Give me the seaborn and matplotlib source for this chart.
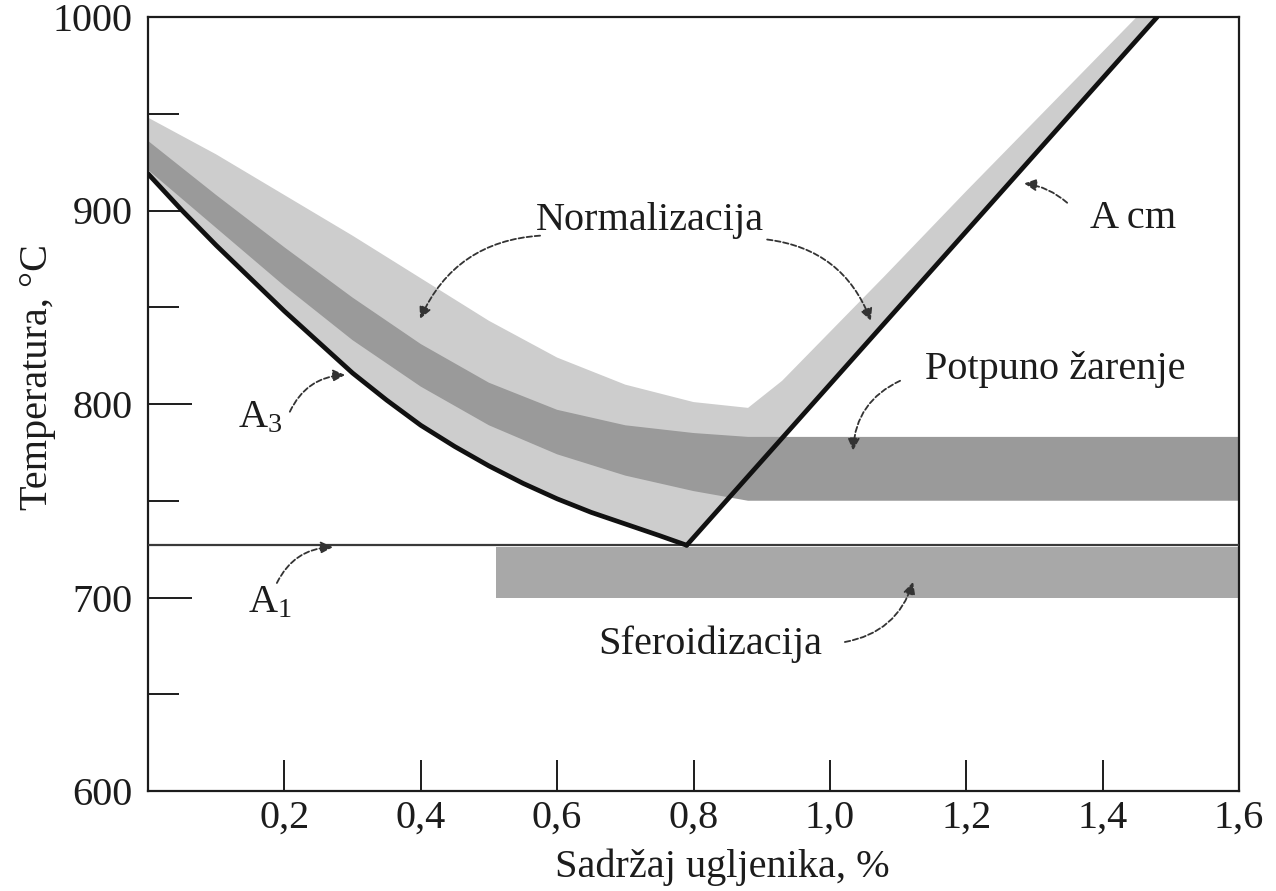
import matplotlib
matplotlib.use("Agg")
import matplotlib.pyplot as plt
from matplotlib.ticker import FixedLocator
import seaborn as sns

# ---------------- data ----------------
# A3 line (hypoeutectoid), carbon % vs temperature °C
a3_x = [0.00, 0.05, 0.10, 0.15, 0.20, 0.25, 0.30, 0.35, 0.40, 0.45, 0.50,
        0.55, 0.60, 0.65, 0.70, 0.75, 0.79]
a3_t = [919, 900, 882, 865, 848, 832, 816, 802, 789, 778, 768,
        759, 751, 744, 738, 732, 727]
# Acm line (hypereutectoid)
acm_x = [0.79, 1.48]
acm_t = [727, 1000]
# A1 line
a1_x = [0.0, 1.6]
a1_t = [727, 727]

# Normalization band: upper edge (lower edge = A3 / Acm)
norm_up_x = [0.00, 0.10, 0.20, 0.30, 0.40, 0.50, 0.60, 0.70, 0.80, 0.88,
             0.93, 0.98, 1.08, 1.20, 1.30, 1.45]
norm_up_t = [948, 929, 908, 887, 865, 843, 824, 810, 801, 798,
             812, 830, 866, 910, 946, 1000]

# Full annealing band
full_x = [0.00, 0.10, 0.20, 0.30, 0.40, 0.50, 0.60, 0.70, 0.80, 0.88, 1.60]
full_up_t = [936, 908, 881, 855, 831, 811, 797, 789, 785, 783, 783]
full_lo_t = [921, 891, 861, 833, 809, 789, 774, 763, 755, 750, 750]

# Spheroidization band
sph_x = [0.51, 1.60]
sph_lo_t = [700, 700]
sph_up_t = [726, 726]

x_ticks = [0.2, 0.4, 0.6, 0.8, 1.0, 1.2, 1.4, 1.6]
x_tick_labels = ["0,2", "0,4", "0,6", "0,8", "1,0", "1,2", "1,4", "1,6"]
y_ticks = [600, 700, 800, 900, 1000]
y_minor = [650, 750, 850, 950]

# ---------------- style ----------------
sns.set_theme(style="ticks")
plt.rcParams["font.family"] = ["Liberation Serif", "DejaVu Serif"]
plt.rcParams["mathtext.fontset"] = "custom"
plt.rcParams["mathtext.rm"] = "Liberation Serif"
plt.rcParams["mathtext.it"] = "Liberation Serif:italic"

INK = "#1c1c1c"
FS = 29

fig = plt.figure(figsize=(12.76, 8.91), dpi=100)
fig.patch.set_facecolor("white")
ax = fig.add_axes([148 / 1276, 1 - 791 / 891, (1239 - 148) / 1276, (791 - 17) / 891])
ax.set_facecolor("white")

# ---------------- bands ----------------
norm_poly_x = norm_up_x + [acm_x[1], acm_x[0]] + a3_x[::-1][1:]
norm_poly_t = norm_up_t + [acm_t[1], acm_t[0]] + a3_t[::-1][1:]
ax.fill(norm_poly_x, norm_poly_t, color="#cdcdcd", lw=0, zorder=1)

full_poly_x = full_x + full_x[::-1]
full_poly_t = full_up_t + full_lo_t[::-1]
ax.fill(full_poly_x, full_poly_t, color="#9a9a9a", lw=0, zorder=2)

ax.fill_between(sph_x, sph_lo_t, sph_up_t, color="#a8a8a8", lw=0, zorder=2)

# ---------------- lines ----------------
sns.lineplot(x=a1_x, y=a1_t, ax=ax, color="#3a3a3a", lw=1.6, zorder=3)
sns.lineplot(x=a3_x, y=a3_t, ax=ax, color="#111111", lw=3.4, zorder=4)
sns.lineplot(x=acm_x, y=acm_t, ax=ax, color="#111111", lw=3.4, zorder=4)

# ---------------- axes ----------------
ax.set_xlim(0, 1.6)
ax.set_ylim(600, 1000)
ax.set_xticks(x_ticks)
ax.set_xticklabels(x_tick_labels)
ax.set_yticks(y_ticks)
ax.yaxis.set_minor_locator(FixedLocator(y_minor))
ax.tick_params(axis="both", which="both", direction="in", colors=INK,
               labelsize=FS, bottom=True, left=True, top=False, right=False)
ax.tick_params(axis="y", which="major", length=32, width=1.4, pad=11)
ax.tick_params(axis="y", which="minor", length=22, width=1.4)
ax.tick_params(axis="x", which="major", length=22, width=1.4, pad=6)
for s in ax.spines.values():
    s.set_linewidth(1.6)
    s.set_color(INK)

ax.set_xlabel("Sadržaj ugljenika, %", fontsize=FS, color=INK)
ax.set_ylabel("Temperatura, °C", fontsize=FS, color=INK)
ax.xaxis.set_label_coords(0.526, -0.074)
ax.yaxis.set_label_coords(-0.084, 0.535)

# ---------------- annotations ----------------
def txt(x, y, s, ha="center"):
    ax.text(x, y, s, fontsize=FS, color=INK, ha=ha, va="baseline", zorder=6)

def arrow(start, tip, rad):
    ax.annotate("", xy=tip, xytext=start,
                arrowprops=dict(arrowstyle="-|>", color="#333333", lw=1.3,
                                linestyle=(0, (3, 1.5)), mutation_scale=18,
                                shrinkA=0, shrinkB=0,
                                connectionstyle=f"arc3,rad={rad}"),
                zorder=6)

txt(0.736, 890, "Normalizacija")
arrow((0.575, 887), (0.399, 844), 0.3)
arrow((0.908, 885), (1.060, 843), -0.3)

txt(1.444, 891, "A cm")
arrow((1.348, 904), (1.285, 914), 0.15)

txt(1.330, 813, "Potpuno žarenje")
arrow((1.103, 812), (1.034, 776), 0.3)

txt(0.824, 671, "Sferoidizacija")
arrow((1.022, 677), (1.122, 708), 0.3)

txt(0.132, 788, r"$\mathrm{A}_3$", ha="left")
arrow((0.208, 796), (0.289, 815), -0.3)

txt(0.147, 692.5, r"$\mathrm{A}_1$", ha="left")
arrow((0.189, 707.5), (0.271, 726), -0.3)

fig.savefig("out.png", dpi=100, facecolor="white")
